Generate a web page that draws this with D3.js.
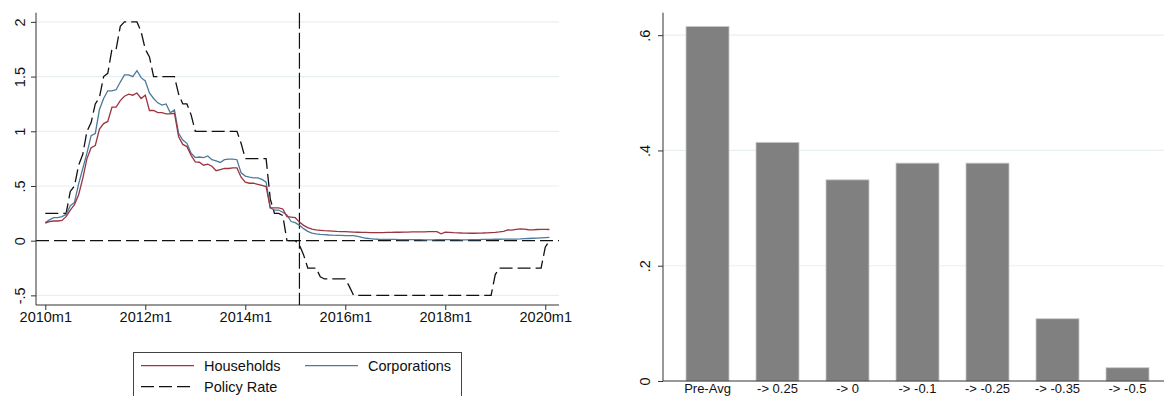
<!DOCTYPE html>
<html>
<head>
<meta charset="utf-8">
<script src="https://cdn.jsdelivr.net/npm/d3@7/dist/d3.min.js"></script>
<style>
  html, body { margin: 0; padding: 0; background: #fff; }
  svg { display: block; font-family: "Liberation Sans", Arial, sans-serif; }
</style>
</head>
<body>
<svg id="chart" width="1164" height="396"></svg>
<script>
// ---- Left panel: monthly lending rates vs policy rate, 2010m1 .. 2020m2 ----
const households = [
  0.16, 0.175, 0.18, 0.18, 0.185, 0.22, 0.28, 0.33, 0.42, 0.57, 0.75, 0.85,
  0.87, 1.02, 1.07, 1.09, 1.22, 1.22, 1.28, 1.32, 1.34, 1.33, 1.35, 1.30,
  1.33, 1.19, 1.19, 1.17, 1.17, 1.16, 1.16, 1.165, 0.95, 0.88, 0.86, 0.78,
  0.72, 0.717, 0.69, 0.70, 0.68, 0.64, 0.65, 0.66, 0.66, 0.665, 0.665, 0.58,
  0.535, 0.525, 0.525, 0.515, 0.505, 0.495, 0.30, 0.30, 0.30, 0.29, 0.22, 0.215,
  0.21, 0.17, 0.14, 0.12, 0.105, 0.098, 0.095, 0.092, 0.09, 0.088, 0.085, 0.083,
  0.082, 0.08, 0.078, 0.077, 0.076, 0.075, 0.074, 0.073, 0.073, 0.074, 0.075, 0.076,
  0.077, 0.077, 0.078, 0.079, 0.08, 0.08, 0.081, 0.081, 0.082, 0.082, 0.082, 0.062,
  0.077, 0.075, 0.073, 0.072, 0.07, 0.069, 0.068, 0.068, 0.069, 0.07, 0.072, 0.074,
  0.076, 0.08, 0.085, 0.098, 0.097, 0.103, 0.107, 0.105, 0.10, 0.098, 0.102, 0.104,
  0.103, 0.102
];
const corporations = [
  0.165, 0.19, 0.21, 0.21, 0.22, 0.24, 0.32, 0.35, 0.52, 0.66, 0.80, 0.96,
  0.98, 1.20, 1.30, 1.37, 1.37, 1.38, 1.45, 1.515, 1.515, 1.50, 1.554, 1.49,
  1.46, 1.35, 1.30, 1.26, 1.24, 1.25, 1.17, 1.195, 0.98, 0.92, 0.89, 0.80,
  0.76, 0.765, 0.76, 0.774, 0.74, 0.73, 0.715, 0.74, 0.745, 0.745, 0.74, 0.62,
  0.59, 0.58, 0.575, 0.575, 0.56, 0.535, 0.30, 0.28, 0.28, 0.26, 0.235, 0.175,
  0.165, 0.14, 0.11, 0.085, 0.07, 0.062, 0.058, 0.055, 0.052, 0.05, 0.049, 0.048,
  0.047, 0.046, 0.046, 0.04, 0.03, 0.022, 0.018, 0.015, 0.013, 0.012, 0.012, 0.011,
  0.011, 0.01, 0.01, 0.01, 0.009, 0.009, 0.009, 0.008, 0.008, 0.008, 0.009, 0.009,
  0.01, 0.01, 0.009, 0.009, 0.008, 0.008, 0.009, 0.01, 0.01, 0.011, 0.012, 0.012,
  0.013, 0.013, 0.014, 0.014, 0.015, 0.015, 0.016, 0.018, 0.02, 0.022, 0.024, 0.026,
  0.028, 0.03
];
const policyRate = [
  0.25, 0.25, 0.25, 0.25, 0.25, 0.25, 0.45, 0.5, 0.69, 0.79, 1.0, 1.08,
  1.25, 1.31, 1.5, 1.53, 1.75, 1.75, 1.96, 2.0, 2.0, 2.0, 2.0, 1.91,
  1.75, 1.68, 1.5, 1.5, 1.5, 1.5, 1.5, 1.5, 1.34, 1.25, 1.25, 1.15,
  1.0, 1.0, 1.0, 1.0, 1.0, 1.0, 1.0, 1.0, 1.0, 1.0, 1.0, 0.89,
  0.75, 0.75, 0.75, 0.75, 0.75, 0.75, 0.38, 0.25, 0.25, 0.23, 0, 0,
  0, -0.04, -0.13, -0.25, -0.25, -0.25, -0.33, -0.35, -0.35, -0.35, -0.35, -0.35,
  -0.35, -0.42, -0.5, -0.5, -0.5, -0.5, -0.5, -0.5, -0.5, -0.5, -0.5, -0.5,
  -0.5, -0.5, -0.5, -0.5, -0.5, -0.5, -0.5, -0.5, -0.5, -0.5, -0.5, -0.5,
  -0.5, -0.5, -0.5, -0.5, -0.5, -0.5, -0.5, -0.5, -0.5, -0.5, -0.5, -0.5,
  -0.31, -0.25, -0.25, -0.25, -0.25, -0.25, -0.25, -0.25, -0.25, -0.25, -0.25, -0.25,
  -0.06, 0
];
const startYear = 2010;
const leftYTicks = [-0.5, 0, 0.5, 1, 1.5, 2];
const leftYLabels = ["-.5", "0", ".5", "1", "1.5", "2"];
const leftXTicks = ["2010m1", "2012m1", "2014m1", "2016m1", "2018m1", "2020m1"];
const markerMonth = "2015m2";
const legendLabels = ["Households", "Corporations", "Policy Rate"];

// ---- Right panel: bar chart by policy step ----
const steps = ["Pre-Avg", "-> 0.25", "-> 0", "-> -0.1", "-> -0.25", "-> -0.35", "-> -0.5"];
const stepValues = [0.615, 0.414, 0.349, 0.378, 0.378, 0.108, 0.023];
const rightYTicks = [0, 0.2, 0.4, 0.6];
const rightYLabels = ["0", ".2", ".4", ".6"];

const RED = "#9b3540";
const BLUE = "#4b7a9d";
const GRID = "#e8eff1";
const AXIS = "#333333";
const FONT = 14.5;

// month label -> index
const monthIndex = lab => {
  const [y, m] = lab.split("m").map(Number);
  return (y - startYear) * 12 + (m - 1);
};

const svg = d3.select("#chart");

// ================= LEFT =================
const xL = d3.scaleLinear().domain([-2.23, 123.3]).range([36, 559]);
const yL = d3.scaleLinear().domain([-0.588, 2.084]).range([305, 12.7]);

const gL = svg.append("g");

// gridlines
gL.selectAll("line.grid").data(leftYTicks.filter(v => v !== 0)).join("line")
  .attr("x1", xL.range()[0]).attr("x2", xL.range()[1])
  .attr("y1", d => yL(d)).attr("y2", d => yL(d))
  .attr("stroke", GRID).attr("stroke-width", 1.2);

// y axis
const yAxisL = d3.axisLeft(yL).tickValues(leftYTicks).tickSize(5)
  .tickFormat((d, i) => leftYLabels[i]);
const gyL = gL.append("g").attr("transform", `translate(${xL.range()[0]},0)`).call(yAxisL);
gyL.select(".domain").attr("stroke", AXIS).attr("d", `M0,${yL.range()[1]}V${yL.range()[0]}`);
gyL.selectAll(".tick line").attr("stroke", AXIS);
gyL.selectAll(".tick text")
  .attr("font-size", FONT).attr("fill", "#111")
  .attr("x", 0).attr("dy", "0.36em")
  .attr("text-anchor", "middle")
  .attr("transform", "translate(-16,0) rotate(-90)");

// x axis
const xAxisL = d3.axisBottom(xL).tickValues(leftXTicks.map(monthIndex)).tickSize(5)
  .tickFormat((d, i) => leftXTicks[i]);
const gxL = gL.append("g").attr("transform", `translate(0,${yL.range()[0]})`).call(xAxisL);
gxL.select(".domain").attr("stroke", AXIS).attr("d", `M${xL.range()[0]},0H${xL.range()[1]}`);
gxL.selectAll(".tick line").attr("stroke", AXIS);
gxL.selectAll(".tick text").attr("font-size", FONT).attr("fill", "#111").attr("y", 5).attr("dy", "0.8em");

// zero reference line (dashed)
gL.append("line")
  .attr("x1", xL.range()[0]).attr("x2", xL.range()[1])
  .attr("y1", yL(0)).attr("y2", yL(0))
  .attr("stroke", "#111").attr("stroke-width", 1.2).attr("stroke-dasharray", "13,5");

// vertical marker
gL.append("line")
  .attr("x1", xL(monthIndex(markerMonth))).attr("x2", xL(monthIndex(markerMonth)))
  .attr("y1", yL.range()[1]).attr("y2", yL.range()[0])
  .attr("stroke", "#111").attr("stroke-width", 1.2).attr("stroke-dasharray", "16,4");

const line = d3.line().x((d, i) => xL(i)).y(d => yL(d));

gL.append("path").datum(policyRate).attr("d", line)
  .attr("fill", "none").attr("stroke", "#111").attr("stroke-width", 1.3)
  .attr("stroke-dasharray", "13,5");
gL.append("path").datum(corporations).attr("d", line)
  .attr("fill", "none").attr("stroke", BLUE).attr("stroke-width", 1.3);
gL.append("path").datum(households).attr("d", line)
  .attr("fill", "none").attr("stroke", RED).attr("stroke-width", 1.3);

// legend
const lg = svg.append("g");
lg.append("rect").attr("x", 133.5).attr("y", 352.5).attr("width", 328).attr("height", 60)
  .attr("fill", "#fff").attr("stroke", "#444").attr("stroke-width", 1);
const legendItems = [
  { label: legendLabels[0], color: RED, dash: null, x: 141, y: 365.7 },
  { label: legendLabels[1], color: BLUE, dash: null, x: 305, y: 365.7 },
  { label: legendLabels[2], color: "#111", dash: "13,5", x: 141, y: 386.7 }
];
legendItems.forEach(it => {
  lg.append("line").attr("x1", it.x).attr("x2", it.x + 53).attr("y1", it.y).attr("y2", it.y)
    .attr("stroke", it.color).attr("stroke-width", 1.3)
    .attr("stroke-dasharray", it.dash);
  lg.append("text").attr("x", it.x + 63).attr("y", it.y).attr("dy", "0.36em")
    .attr("font-size", FONT).attr("fill", "#111").text(it.label);
});

// ================= RIGHT =================
const xR = d3.scaleBand().domain(steps).range([672, 1163]).paddingInner(27 / 70).paddingOuter(0.2);
const yR = d3.scaleLinear().domain([0, 0.639]).range([381, 12.7]);
const gR = svg.append("g");

gR.selectAll("line.grid").data(rightYTicks.filter(v => v !== 0)).join("line")
  .attr("x1", 663).attr("x2", 1164)
  .attr("y1", d => yR(d)).attr("y2", d => yR(d))
  .attr("stroke", GRID).attr("stroke-width", 1.2);

gR.selectAll("rect.bar").data(steps).join("rect")
  .attr("x", d => xR(d)).attr("width", xR.bandwidth())
  .attr("y", (d, i) => yR(stepValues[i]))
  .attr("height", (d, i) => yR(0) - yR(stepValues[i]))
  .attr("fill", "#808080").attr("stroke", "#c8c8c8").attr("stroke-width", 0.8);

const yAxisR = d3.axisLeft(yR).tickValues(rightYTicks).tickSize(5)
  .tickFormat((d, i) => rightYLabels[i]);
const gyR = gR.append("g").attr("transform", "translate(663,0)").call(yAxisR);
gyR.select(".domain").attr("stroke", AXIS).attr("d", `M0,${yR.range()[1]}V${yR.range()[0]}`);
gyR.selectAll(".tick line").attr("stroke", AXIS);
gyR.selectAll(".tick text")
  .attr("font-size", FONT).attr("fill", "#111")
  .attr("x", 0).attr("dy", "0.36em")
  .attr("text-anchor", "middle")
  .attr("transform", "translate(-18,0) rotate(-90)");

// category labels sit tight under the axis so they stay inside the frame
const xAxisR = d3.axisBottom(xR).tickSize(0);
const gxR = gR.append("g").attr("transform", `translate(0,${yR(0)})`).call(xAxisR);
gxR.select(".domain").attr("stroke", AXIS).attr("d", "M663,0H1164");
gxR.selectAll(".tick text").attr("font-size", 13).attr("fill", "#111").attr("y", 12).attr("dy", 0);
</script>
</body>
</html>
